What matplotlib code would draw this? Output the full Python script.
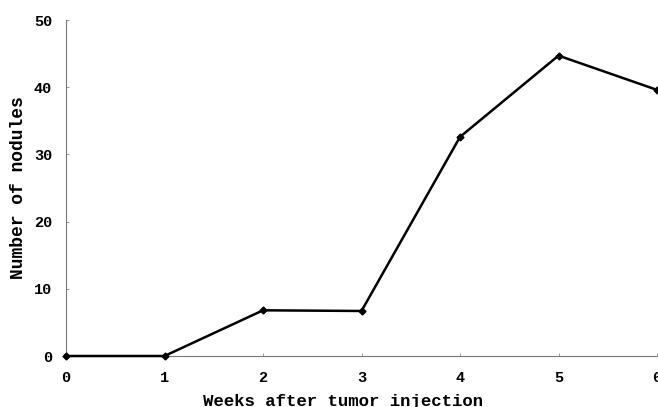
import matplotlib.pyplot as plt

# weeks after tumor injection vs. number of nodules
weeks = [0, 1, 2, 3, 4, 5, 6]
nodules = [0, 0, 6.8, 6.7, 32.6, 44.7, 39.6]
y_ticks = [0, 10, 20, 30, 40, 50]

plt.rcParams['font.family'] = ['Liberation Mono', 'DejaVu Sans Mono']
plt.rcParams['font.weight'] = 'bold'

fig = plt.figure(figsize=(6.58, 4.07), dpi=100)
ax = fig.add_axes([66 / 658, 51 / 407, 591 / 658, 336 / 407])

ax.plot(weeks, nodules, color='black', lw=1.8, marker='D', ms=3.5,
        clip_on=False, zorder=3)

ax.set_xlim(0, 6)
ax.set_ylim(0, 50)
ax.set_xticks(weeks)
ax.set_yticks(y_ticks)

for s in ['top', 'right']:
    ax.spines[s].set_visible(False)
for s in ['left', 'bottom']:
    ax.spines[s].set_color('#777777')
    ax.spines[s].set_linewidth(0.8)

ax.tick_params(axis='both', direction='in', length=2.5, width=0.6,
               color='#888888', labelsize=11)
ax.tick_params(axis='x', pad=10.5)
ax.tick_params(axis='y', pad=10)

ax.set_xlabel('Weeks after tumor injection', fontsize=12.5, fontweight='bold')
ax.xaxis.set_label_coords(0.468, -0.112)
ax.set_ylabel('Number of nodules', fontsize=13, fontweight='bold')
ax.yaxis.set_label_coords(-0.066, 0.5)

fig.savefig('out.png', dpi=100)
